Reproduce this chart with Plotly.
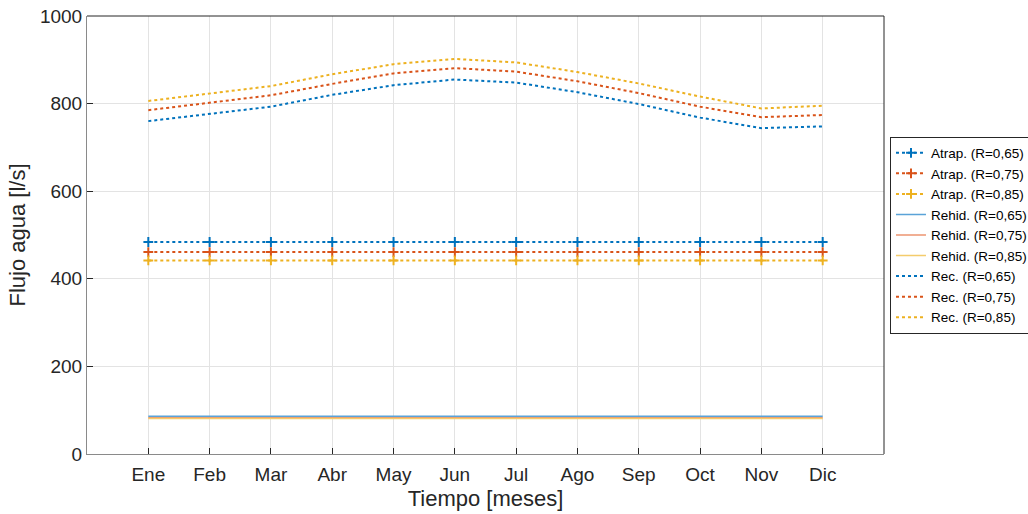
import plotly.graph_objects as go

meses = ["Ene", "Feb", "Mar", "Abr", "May", "Jun", "Jul", "Ago", "Sep", "Oct", "Nov", "Dic"]
x_pos = list(range(1, 13))

# Caudal de atrapanieblas [l/s]
atrap_065 = [484] * 12
atrap_075 = [461] * 12
atrap_085 = [442] * 12

# Caudal de rehidratación [l/s]
rehid_065 = [86] * 12
rehid_075 = [83] * 12
rehid_085 = [81] * 12

# Caudal recuperado [l/s]
rec_065 = [760, 776, 793, 820, 842, 855, 848, 826, 799, 768, 744, 748]
rec_075 = [785, 802, 819, 845, 869, 881, 873, 851, 824, 793, 769, 774]
rec_085 = [806, 823, 840, 867, 890, 902, 894, 872, 846, 816, 789, 795]

azul = "#0072BD"
naranja = "#D95319"
amarillo = "#EDB120"

fig = go.Figure()

for nombre, datos, color in [
    ("Atrap. (R=0,65)", atrap_065, azul),
    ("Atrap. (R=0,75)", atrap_075, naranja),
    ("Atrap. (R=0,85)", atrap_085, amarillo),
]:
    fig.add_trace(go.Scatter(
        x=x_pos, y=datos, name=nombre, mode="lines+markers",
        line=dict(color=color, width=2, dash="dot"),
        marker=dict(symbol="cross-thin", size=7, line=dict(color=color, width=2)),
    ))

for nombre, datos, color in [
    ("Rehid. (R=0,65)", rehid_065, "#5aa3d8"),
    ("Rehid. (R=0,75)", rehid_075, "#ec9470"),
    ("Rehid. (R=0,85)", rehid_085, "#f4cc6c"),
]:
    fig.add_trace(go.Scatter(
        x=x_pos, y=datos, name=nombre, mode="lines",
        line=dict(color=color, width=1.5),
    ))

for nombre, datos, color in [
    ("Rec. (R=0,65)", rec_065, azul),
    ("Rec. (R=0,75)", rec_075, naranja),
    ("Rec. (R=0,85)", rec_085, amarillo),
]:
    fig.add_trace(go.Scatter(
        x=x_pos, y=datos, name=nombre, mode="lines",
        line=dict(color=color, width=2, dash="dot"),
    ))

fuente = "Liberation Sans, Arial, sans-serif"
texto = "#262626"
eje = "#8a8a8a"

ejes_comunes = dict(
    ticks="inside", ticklen=6, tickcolor=texto,
    showgrid=True, gridcolor="#e3e3e3", gridwidth=1,
    showline=True, linecolor=eje, linewidth=1, mirror=False,
    zeroline=False,
    tickfont=dict(size=19, color=texto),
)

fig.update_layout(
    width=1028, height=514,
    margin=dict(l=87, r=144, t=16, b=60, autoexpand=False),
    paper_bgcolor="white", plot_bgcolor="white",
    font=dict(family=fuente, color=texto),
    showlegend=True,
    legend=dict(
        x=1.0075, y=0.5, xanchor="left", yanchor="middle",
        bgcolor="white", bordercolor=texto, borderwidth=1,
        font=dict(size=13.5, color="#000000"),
        tracegroupgap=0, itemwidth=30,
    ),
    xaxis=dict(
        range=[0, 13],
        tickmode="array", tickvals=x_pos, ticktext=meses,
        ticklabelstandoff=3,
        title=dict(text="Tiempo [meses]", font=dict(size=22, color=texto), standoff=6),
        **ejes_comunes,
    ),
    yaxis=dict(
        range=[0, 1000],
        tickmode="array", tickvals=[0, 200, 400, 600, 800, 1000],
        title=dict(text="Flujo agua [l/s]", font=dict(size=22, color=texto), standoff=8),
        **ejes_comunes,
    ),
    shapes=[
        # marco superior y derecho del área de trazado
        dict(type="line", xref="paper", yref="paper", x0=0, x1=1, y0=1, y1=1,
             line=dict(color=texto, width=1)),
        dict(type="line", xref="paper", yref="paper", x0=1, x1=1, y0=0, y1=1,
             line=dict(color=texto, width=1)),
    ],
)

fig.write_html("out.html")
